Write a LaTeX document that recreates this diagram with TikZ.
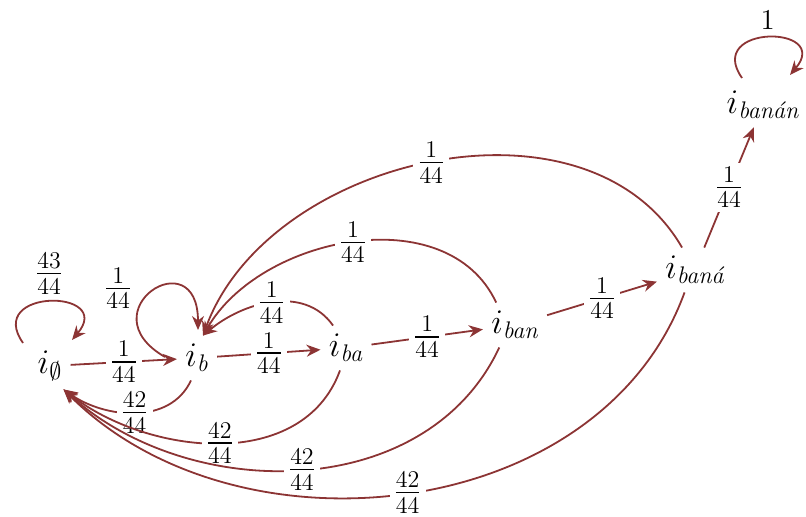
\documentclass[tikz,border=0pt]{standalone}
\usepackage{amsmath}
\usepackage{tikz}
\usetikzlibrary{arrows.meta, positioning, calc}
\definecolor{edgered}{RGB}{140,52,52}

\begin{document}
\begin{tikzpicture}[x=0.5pt, y=0.5pt, font=\LARGE,
  state/.style={inner sep=4pt},
  trans/.style={draw=edgered, line width=0.9pt, -{Stealth[length=7pt, width=6pt]}},
  prob/.style={fill=white, inner sep=2pt}]
  \useasboundingbox (0,0) rectangle (806,-517);

  % States
  \node[state] (i0) at (50,-366) {$i_{\emptyset}$};
  \node[state] (ib) at (197,-358) {$i_{\textit{b}}$};
  \node[state] (iba) at (346,-348) {$i_{\textit{ba}}$};
  \node[state] (iban) at (515,-325) {$i_{\textit{ban}}$};
  \node[state] (ibana) at (695,-270) {$i_{\textit{baná}}$};
  \node[state] (ibanan) at (763,-105) {$i_{\textit{banán}}$};

  % Forward steps
  \draw[trans] (i0) -- node[prob]{$\frac{1}{44}$} (ib);
  \draw[trans] (ib) -- node[prob]{$\frac{1}{44}$} (iba);
  \draw[trans] (iba) -- node[prob]{$\frac{1}{44}$} (iban);
  \draw[trans] (iban) -- node[prob]{$\frac{1}{44}$} (ibana);
  \draw[trans] (ibana) -- node[prob]{$\frac{1}{44}$} (ibanan);

  % Self loops
  \draw[trans] ($(i0)+(-27,23)$) to[out=125, in=50, looseness=3.5]
    node[above]{$\frac{43}{44}$} ($(i0)+(22,26)$);
  \draw[trans] ($(ib)+(-32,1)$) to[out=150, in=90, looseness=5.5]
    node[pos=0.3, above left=-2pt]{$\frac{1}{44}$} ($(ib)+(1,28)$);
  \draw[trans] ($(ibanan)+(-21,27)$) to[out=125, in=50, looseness=3.5]
    node[above, font=\Large]{$1$} ($(ibanan)+(27,30)$);

  % Back to i_b
  \draw[trans] (iba.120) to[out=125, in=40] node[prob]{$\frac{1}{44}$} (ib.75);
  \draw[trans] (iban.130) to[out=115, in=60] node[prob]{$\frac{1}{44}$} (ib.75);
  \draw[trans] (ibana.120) to[out=120, in=70] node[prob]{$\frac{1}{44}$} (ib.75);

  % Back to i_empty
  \draw[trans] (ib.-105) to[out=-115, in=-35] node[prob]{$\frac{42}{44}$} (i0.-60);
  \draw[trans] (iba.-105) to[out=-110, in=-38] node[prob]{$\frac{42}{44}$} (i0.-60);
  \draw[trans] (iban.-125) to[out=-115, in=-42] node[prob]{$\frac{42}{44}$} (i0.-60);
  \draw[trans] (ibana.-115) to[out=-110, in=-45] node[prob]{$\frac{42}{44}$} (i0.-60);
\end{tikzpicture}
\end{document}
